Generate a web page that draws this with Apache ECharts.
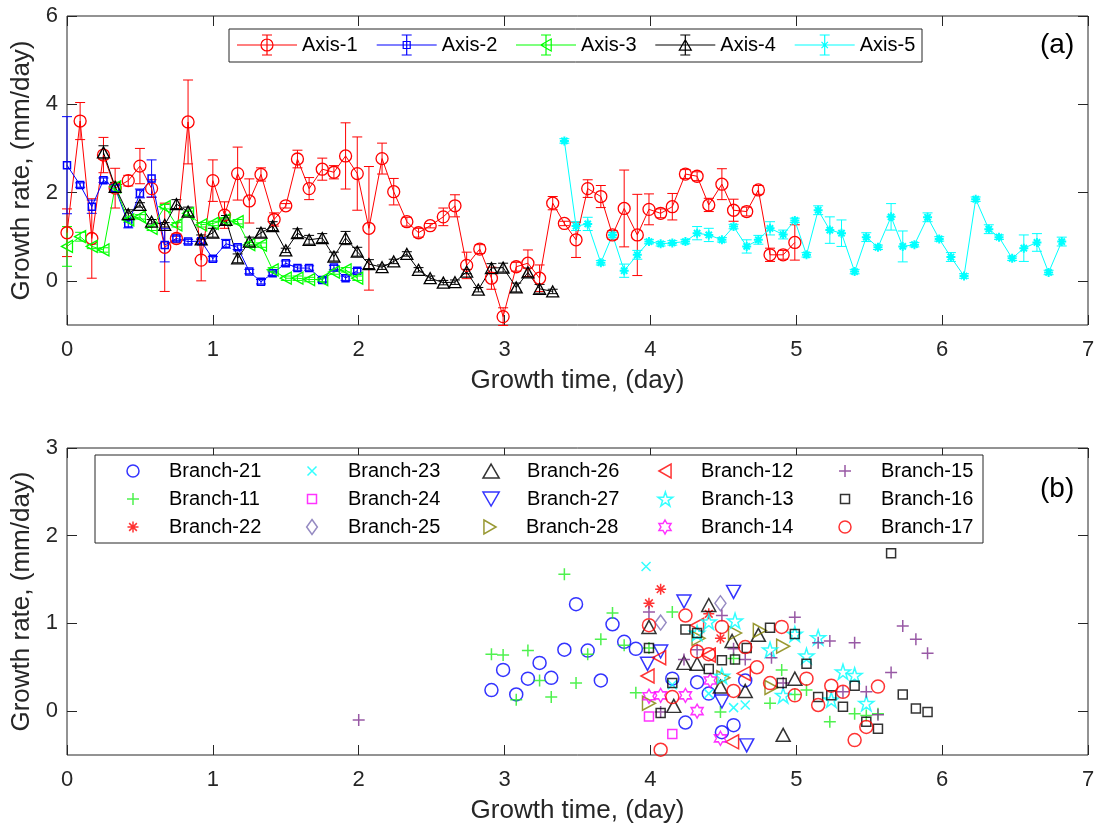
<!DOCTYPE html>
<html><head><meta charset="utf-8">
<script src="https://cdn.jsdelivr.net/npm/echarts@6/dist/echarts.min.js"></script>
<style>html,body{margin:0;padding:0;background:#fff}#c{width:1104px;height:827px}</style>
</head><body><div id="c"></div>
<script>
// ---------------- DATA (panel a) ----------------
const xTicks = [0, 1, 2, 3, 4, 5, 6, 7];
const yTicksA = [0, 2, 4, 6];
const yTicksB = [0, 1, 2, 3];

const ax1X = [0.00,0.09,0.17,0.25,0.33,0.42,0.50,0.58,0.67,0.75,0.83,0.92,1.00,1.08,1.17,1.25,1.33,1.42,1.50,1.58,1.66,1.75,1.83,1.91,1.99,2.07,2.16,2.24,2.33,2.41,2.49,2.58,2.66,2.74,2.83,2.91,2.99,3.08,3.16,3.24,3.33,3.41,3.49,3.57,3.66,3.74,3.82,3.91,3.99,4.07,4.15,4.24,4.32,4.40,4.49,4.57,4.66,4.74,4.82,4.91,4.99];
const ax1Y = [1.09,3.62,0.96,2.85,2.10,2.27,2.60,2.09,0.76,0.96,3.60,0.47,2.27,1.49,2.43,1.81,2.41,1.39,1.70,2.76,2.09,2.53,2.46,2.83,2.43,1.19,2.77,2.02,1.34,1.09,1.25,1.45,1.70,0.35,0.72,0.06,-0.81,0.32,0.40,0.06,1.76,1.30,0.93,2.09,1.91,1.04,1.64,1.04,1.62,1.53,1.68,2.42,2.37,1.72,2.19,1.60,1.57,2.06,0.59,0.59,0.87];
const ax1E = [0.54,0.42,0.90,0.40,0.45,0.12,0.40,0.20,1.00,0.10,0.95,0.47,0.47,0.30,0.60,0.50,0.15,0.15,0.05,0.20,0.25,0.25,0.15,0.75,0.83,1.40,0.35,0.30,0.10,0.10,0.05,0.20,0.25,0.30,0.10,0.25,0.20,0.10,0.30,0.30,0.15,0.05,0.40,0.20,0.25,0.10,0.87,0.92,0.35,0.10,0.30,0.10,0.10,0.15,0.35,0.25,0.10,0.10,0.15,0.10,0.40];

const ax2X = [0.00,0.09,0.17,0.25,0.33,0.42,0.50,0.58,0.67,0.75,0.83,0.92,1.00,1.09,1.17,1.25,1.33,1.41,1.50,1.58,1.66,1.75,1.83,1.91,1.99];
const ax2Y = [2.62,2.17,1.68,2.28,2.10,1.30,1.98,2.32,0.81,0.96,0.89,0.90,0.50,0.84,0.76,0.21,-0.02,0.17,0.40,0.29,0.29,0.02,0.30,0.06,0.23];
const ax2E = [1.10,0.05,0.15,0.05,0.10,0.10,0.10,0.42,0.38,0.05,0.05,0.05,0.05,0.10,0.05,0.05,0.05,0.05,0.05,0.05,0.05,0.05,0.05,0.05,0.05];

const ax3X = [0.00,0.09,0.17,0.25,0.33,0.42,0.50,0.58,0.67,0.75,0.83,0.92,1.00,1.08,1.17,1.25,1.33,1.41,1.50,1.58,1.66,1.75,1.83,1.91,1.99];
const ax3Y = [0.78,1.00,0.78,0.70,2.13,1.38,1.45,1.19,1.68,1.27,1.53,1.27,1.30,1.38,1.34,0.82,0.81,0.25,0.06,0.06,0.03,0.03,0.20,0.25,0.06];
const ax3E = [0.45,0.10,0.05,0.05,0.10,0.05,0.05,0.05,0.05,0.05,0.05,0.05,0.05,0.05,0.05,0.05,0.05,0.05,0.05,0.05,0.05,0.05,0.05,0.05,0.05];

const ax4X = [0.25,0.33,0.42,0.50,0.58,0.67,0.75,0.83,0.92,1.00,1.09,1.17,1.25,1.33,1.41,1.50,1.58,1.66,1.75,1.83,1.91,1.99,2.07,2.16,2.24,2.33,2.41,2.49,2.58,2.66,2.74,2.82,2.91,2.99,3.08,3.16,3.24,3.33];
const ax4Y = [2.91,2.13,1.51,1.72,1.34,1.27,1.74,1.57,0.94,1.09,1.38,0.51,0.89,1.09,1.24,0.69,1.08,0.93,0.97,0.55,0.97,0.66,0.38,0.31,0.44,0.61,0.25,0.06,-0.04,-0.03,0.21,-0.20,0.29,0.30,-0.15,0.19,-0.18,-0.24];
const ax4E = [0.15,0.10,0.10,0.05,0.05,0.05,0.10,0.10,0.10,0.10,0.10,0.10,0.10,0.10,0.10,0.05,0.10,0.10,0.10,0.10,0.15,0.10,0.10,0.05,0.05,0.05,0.05,0.05,0.05,0.05,0.05,0.05,0.10,0.10,0.10,0.10,0.10,0.05];

const ax5X = [3.41,3.49,3.57,3.66,3.74,3.82,3.91,3.99,4.07,4.15,4.24,4.32,4.40,4.49,4.57,4.66,4.74,4.82,4.91,4.99,5.07,5.15,5.23,5.31,5.40,5.48,5.56,5.65,5.73,5.81,5.90,5.98,6.06,6.15,6.23,6.32,6.39,6.48,6.56,6.65,6.73,6.82];
const ax5Y = [3.17,1.24,1.29,0.41,1.04,0.23,0.59,0.89,0.84,0.86,0.89,1.08,1.04,0.93,1.23,0.78,0.93,1.19,1.05,1.37,0.59,1.60,1.15,1.08,0.21,0.99,0.76,1.45,0.78,0.82,1.44,0.95,0.54,0.11,1.85,1.17,0.99,0.51,0.74,0.87,0.19,0.89];
const ax5E = [0.05,0.10,0.15,0.05,0.05,0.15,0.10,0.05,0.05,0.05,0.05,0.15,0.15,0.05,0.05,0.15,0.10,0.15,0.10,0.05,0.05,0.10,0.30,0.30,0.05,0.10,0.05,0.30,0.35,0.05,0.10,0.05,0.10,0.05,0.05,0.10,0.05,0.05,0.30,0.20,0.05,0.10];

// ---------------- DATA (panel b) ----------------
const b21 = [[2.91,0.24],[2.99,0.47],[3.08,0.19],[3.16,0.37],[3.24,0.55],[3.32,0.38],[3.41,0.70],[3.49,1.22],[3.57,0.69],[3.66,0.35],[3.74,0.99],[3.82,0.79],[3.90,0.71],[4.15,0.37],[4.24,-0.13],[4.32,0.33],[4.40,0.20],[4.49,-0.24],[4.57,-0.16],[4.65,0.35]];
const b11 = [[2.91,0.65],[2.99,0.64],[3.08,0.13],[3.16,0.69],[3.24,0.35],[3.32,0.16],[3.41,1.56],[3.49,0.32],[3.57,0.65],[3.66,0.82],[3.74,1.12],[3.82,0.75],[3.90,0.21],[3.99,0.72],[4.15,1.13],[4.48,-0.01],[4.57,0.60],[4.82,0.09],[4.90,0.47],[4.99,0.19],[5.07,0.24],[5.23,-0.12],[5.40,-0.03],[5.48,-0.05],[5.56,-0.03]];
const b22 = [[3.99,1.23],[4.07,1.39],[4.40,1.11],[4.48,0.83]];
const b23 = [[3.97,1.65],[4.15,0.30],[4.40,0.20],[4.57,0.04],[4.65,0.07]];
const b24 = [[3.99,-0.06],[4.15,-0.26]];
const b25 = [[4.07,1.01],[4.48,1.23]];
const b26 = [[3.99,0.96],[4.16,0.06],[4.23,0.55],[4.32,0.54],[4.40,1.21],[4.48,0.28],[4.56,0.80],[4.65,0.23],[4.74,0.87],[4.91,-0.27],[4.99,0.37]];
const b27 = [[3.98,0.54],[4.07,0.68],[4.23,1.25],[4.49,0.11],[4.57,1.36],[4.66,-0.39]];
const b28 = [[3.99,0.09],[4.33,0.83],[4.50,0.38],[4.58,0.89],[4.75,0.92],[4.83,0.27],[4.91,0.74]];
const b12 = [[3.98,0.40],[4.06,0.61],[4.32,0.98],[4.40,0.64],[4.56,-0.35],[4.64,0.43]];
const b13 = [[4.32,0.89],[4.40,1.02],[4.49,0.40],[4.58,1.03],[4.82,0.70],[4.91,0.18],[4.99,0.88],[5.07,0.63],[5.15,0.84],[5.24,0.13],[5.32,0.45],[5.40,0.41],[5.48,0.09]];
const b14 = [[3.99,0.17],[4.07,0.18],[4.24,0.18],[4.32,0.00],[4.41,0.35],[4.48,-0.31]];
const b15 = [[2.00,-0.10],[3.99,1.13],[4.07,-0.01],[4.23,0.59],[4.32,0.70],[4.49,1.09],[4.57,0.71],[4.65,0.59],[4.83,0.61],[4.91,0.32],[4.99,1.07],[5.15,0.78],[5.23,0.80],[5.32,0.22],[5.40,0.78],[5.48,0.22],[5.56,-0.04],[5.65,0.44],[5.73,0.97],[5.82,0.82],[5.90,0.66]];
const b16 = [[3.99,0.72],[4.07,-0.02],[4.15,0.32],[4.24,0.93],[4.32,0.89],[4.40,0.48],[4.49,0.58],[4.58,0.59],[4.66,0.72],[4.82,0.95],[4.90,0.32],[4.99,0.88],[5.07,0.54],[5.15,0.16],[5.24,0.18],[5.32,0.05],[5.40,0.29],[5.48,-0.12],[5.56,-0.20],[5.65,1.80],[5.73,0.19],[5.82,0.03],[5.90,-0.01]];
const b17 = [[3.99,0.98],[4.07,-0.44],[4.15,0.16],[4.24,1.09],[4.32,0.68],[4.40,0.65],[4.49,0.96],[4.57,0.23],[4.65,0.73],[4.73,0.50],[4.82,0.32],[4.90,0.96],[4.99,0.18],[5.07,0.37],[5.15,0.07],[5.24,0.29],[5.32,0.22],[5.40,-0.33],[5.48,-0.18],[5.56,0.28]];

// ---------------- STYLE ----------------
const FONT = '"Liberation Sans", Arial, Helvetica, sans-serif';
const AX = '#262626';
const NONE = 'rgba(0,0,0,0)';
const SYM = {
  circle: 'circle',
  square: 'path://M0,0 L10,0 L10,10 L0,10 Z',
  diamond: 'path://M5,0 L10,7 L5,14 L0,7 Z',
  up: 'path://M5,0 L10,8.66 L0,8.66 Z',
  down: 'path://M0,0 L10,0 L5,8.66 Z',
  left: 'path://M0,5 L8.66,0 L8.66,10 Z',
  right: 'path://M0,0 L8.66,5 L0,10 Z',
  plus: 'path://M5,0 L5,10 M0,5 L10,5',
  cross: 'path://M0,0 L10,10 M10,0 L0,10',
  aster: 'path://M5,0 L5,10 M0,5 L10,5 M1.5,1.5 L8.5,8.5 M8.5,1.5 L1.5,8.5',
  star: 'path://M5,0 L6.12,3.45 L9.76,3.45 L6.82,5.59 L7.94,9.05 L5,6.91 L2.06,9.05 L3.18,5.59 L0.24,3.45 L3.88,3.45 Z',
  hex: 'path://M5,0 L6.44,2.5 L9.33,2.5 L7.89,5 L9.33,7.5 L6.44,7.5 L5,10 L3.56,7.5 L0.67,7.5 L2.11,5 L0.67,2.5 L3.56,2.5 Z'
};
// legend icons for panel (a): line + error bar + marker, in a 60x20 box
const EB = 'M0,10 L60,10 M30,0 L30,20 M25,0 L35,0 M25,20 L35,20 ';
const LEG_ICON = {
  circle: 'path://' + EB + 'M36,10 A6,6 0 1,1 24,10 A6,6 0 1,1 36,10 Z',
  square: 'path://' + EB + 'M26.5,6.5 L33.5,6.5 L33.5,13.5 L26.5,13.5 Z',
  left:   'path://' + EB + 'M24.8,10 L35.2,4 L35.2,16 Z',
  up:     'path://' + EB + 'M30,4.8 L36,15.2 L24,15.2 Z',
  aster:  'path://' + EB + 'M30,5.5 L30,14.5 M25.5,10 L34.5,10 M26.8,6.8 L33.2,13.2 M33.2,6.8 L26.8,13.2'
};

const topDefs = [
  {name:'Axis-1', x:ax1X, y:ax1Y, e:ax1E, color:'#ff0000', symbol:SYM.circle, size:12, icon:LEG_ICON.circle, bw:1.3},
  {name:'Axis-2', x:ax2X, y:ax2Y, e:ax2E, color:'#0000ff', symbol:SYM.square, size:7,  icon:LEG_ICON.square, bw:1.5},
  {name:'Axis-3', x:ax3X, y:ax3Y, e:ax3E, color:'#00ff00', symbol:SYM.left,   size:[11,12], icon:LEG_ICON.left, bw:1.3},
  {name:'Axis-4', x:ax4X, y:ax4Y, e:ax4E, color:'#000000', symbol:SYM.up,     size:[12,11], icon:LEG_ICON.up, bw:1.3},
  {name:'Axis-5', x:ax5X, y:ax5Y, e:ax5E, color:'#00ffff', symbol:SYM.aster,  size:9,  icon:LEG_ICON.aster, bw:2}
];
const topLegendLeft = [237, 376.7, 516, 655.3, 794.7];

const botDefs = [
  {name:'Branch-21', data:b21, color:'#0000ff', symbol:SYM.circle, size:13, lh:12, asp:1},
  {name:'Branch-11', data:b11, color:'#22ee22', symbol:SYM.plus,   size:12, lh:12, asp:1},
  {name:'Branch-22', data:b22, color:'#ff0000', symbol:SYM.aster,  size:11, lh:11, asp:1},
  {name:'Branch-23', data:b23, color:'#00ffff', symbol:SYM.cross,  size:9,  lh:9,  asp:1},
  {name:'Branch-24', data:b24, color:'#ff00ff', symbol:SYM.square, size:9,  lh:9,  asp:1},
  {name:'Branch-25', data:b25, color:'#7b6db3', symbol:SYM.diamond,size:[11,15], lh:15, asp:0.714},
  {name:'Branch-26', data:b26, color:'#000000', symbol:SYM.up,     size:[14,13], lh:14, asp:1},
  {name:'Branch-27', data:b27, color:'#0000ff', symbol:SYM.down,   size:[14,13], lh:14, asp:1},
  {name:'Branch-28', data:b28, color:'#808000', symbol:SYM.right,  size:[13,14], lh:14, asp:0.866},
  {name:'Branch-12', data:b12, color:'#ff0000', symbol:SYM.left,   size:[13,14], lh:14, asp:0.866},
  {name:'Branch-13', data:b13, color:'#00ffff', symbol:SYM.star,   size:15, lh:14, asp:1},
  {name:'Branch-14', data:b14, color:'#ff00ff', symbol:SYM.hex,    size:[12,14], lh:14, asp:0.866},
  {name:'Branch-15', data:b15, color:'#7e2f8e', symbol:SYM.plus,   size:12, lh:12, asp:1},
  {name:'Branch-16', data:b16, color:'#000000', symbol:SYM.square, size:9,  lh:9,  asp:1},
  {name:'Branch-17', data:b17, color:'#ff0000', symbol:SYM.circle, size:13, lh:12, asp:1}
];
// column-major legend: 5 columns x 3 rows (marker centres)
const botColCenter = [133, 312, 490, 665, 845];
const botRowCenter = [469, 497, 525];

// ---------------- BUILD ----------------
function makeErr(color) {
  return function (params, api) {
    const x = api.value(0), lo = api.value(1), hi = api.value(2);
    const p1 = api.coord([x, lo]);
    const p2 = api.coord([x, hi]);
    const hw = 5;
    const st = {stroke: color, lineWidth: 1};
    return {type: 'group', children: [
      {type: 'line', shape: {x1: p1[0], y1: p1[1], x2: p2[0], y2: p2[1]}, style: st},
      {type: 'line', shape: {x1: p1[0] - hw, y1: p1[1], x2: p1[0] + hw, y2: p1[1]}, style: st},
      {type: 'line', shape: {x1: p2[0] - hw, y1: p2[1], x2: p2[0] + hw, y2: p2[1]}, style: st}
    ]};
  };
}

const series = [];
topDefs.forEach(d => {
  series.push({
    type: 'custom', name: d.name + ' err', xAxisIndex: 0, yAxisIndex: 0,
    data: d.x.map((v, i) => [v, d.y[i] - d.e[i], d.y[i] + d.e[i]]),
    encode: {x: 0, y: [1, 2]}, renderItem: makeErr(d.color), silent: true, z: 2
  });
  series.push({
    type: 'line', name: d.name, xAxisIndex: 0, yAxisIndex: 0,
    data: d.x.map((v, i) => [v, d.y[i]]),
    symbol: d.symbol, symbolSize: d.size, showAllSymbol: true,
    lineStyle: {color: d.color, width: 1},
    itemStyle: {color: NONE, borderColor: d.color, borderWidth: d.bw},
    emphasis: {disabled: true}, z: 2
  });
});
botDefs.forEach(d => {
  series.push({
    type: 'scatter', name: d.name, xAxisIndex: 2, yAxisIndex: 2,
    data: d.data, symbol: d.symbol, symbolSize: d.size,
    itemStyle: {color: NONE, borderColor: d.color, borderWidth: 1.5},
    emphasis: {disabled: true}, z: 2
  });
});

const legends = [];
topDefs.forEach((d, i) => {
  legends.push({
    left: topLegendLeft[i] - 0.6, top: 34, padding: 0, itemWidth: 60, itemHeight: 22,
    selectedMode: false, data: [{name: d.name, icon: d.icon}],
    textStyle: {fontSize: 20, lineHeight: 22, color: '#000', fontFamily: FONT},
    itemStyle: {color: NONE, borderColor: d.color, borderWidth: 1.2}
  });
});
botDefs.forEach((d, i) => {
  const col = Math.floor(i / 3), row = i % 3;
  const iconW = d.lh * d.asp + 1.5;
  legends.push({
    left: botColCenter[col] - iconW / 2, top: botRowCenter[row] - 8, padding: 0, itemWidth: 62, itemHeight: d.lh,
    selectedMode: false, data: [{name: d.name, icon: d.symbol}],
    textStyle: {fontSize: 20, lineHeight: 16, color: '#000', fontFamily: FONT},
    itemStyle: {color: NONE, borderColor: d.color, borderWidth: 1.5}
  });
});

function xAx(grid, mirror) {
  return {
    type: 'value', gridIndex: grid, min: 0, max: 7, interval: 1,
    position: mirror ? 'top' : 'bottom',
    axisLine: {show: false, onZero: false},
    axisTick: {show: true, inside: true, length: 10, lineStyle: {color: AX, width: 1}},
    axisLabel: {show: !mirror, fontSize: 22, color: AX, margin: 14, fontFamily: FONT},
    splitLine: {show: false},
    name: mirror ? '' : 'Growth time, (day)', nameLocation: 'middle', nameGap: 43,
    nameTextStyle: {fontSize: 26, color: AX, fontFamily: FONT}
  };
}
function yAx(grid, mirror, min, max, ticks) {
  return {
    type: 'value', gridIndex: grid, min: min, max: max,
    position: mirror ? 'right' : 'left',
    axisLine: {show: false, onZero: false},
    axisTick: {show: true, inside: true, length: 10, customValues: ticks, lineStyle: {color: AX, width: 1}},
    axisLabel: {show: !mirror, fontSize: 22, color: AX, margin: 9, fontFamily: FONT, customValues: ticks},
    splitLine: {show: false},
    name: mirror ? '' : 'Growth rate, (mm/day)', nameLocation: 'middle', nameGap: 21,
    nameTextStyle: {fontSize: 26, color: AX, fontFamily: FONT}
  };
}

const option = {
  animation: false,
  backgroundColor: '#fff',
  textStyle: {fontFamily: FONT},
  grid: [
    {left: 67, right: 16, top: 16, height: 309, show: true, borderColor: AX, borderWidth: 1, backgroundColor: 'rgba(0,0,0,0)'},
    {left: 67, right: 16, top: 448, height: 307, show: true, borderColor: AX, borderWidth: 1, backgroundColor: 'rgba(0,0,0,0)'}
  ],
  xAxis: [xAx(0, false), xAx(0, true), xAx(1, false), xAx(1, true)],
  yAxis: [
    yAx(0, false, -1, 6, yTicksA), yAx(0, true, -1, 6, yTicksA),
    yAx(1, false, -0.5, 3, yTicksB), yAx(1, true, -0.5, 3, yTicksB)
  ],
  legend: legends,
  graphic: [
    {type: 'rect', z: 3, shape: {x: 229, y: 29, width: 693, height: 33}, style: {fill: '#fff', stroke: AX, lineWidth: 1}},
    {type: 'rect', z: 3, shape: {x: 95, y: 455, width: 888, height: 88}, style: {fill: '#fff', stroke: AX, lineWidth: 1}},
    {type: 'text', z: 5, left: 1040, top: 31, style: {text: '(a)', fontSize: 28, fill: '#000', font: '28px ' + FONT}},
    {type: 'text', z: 5, left: 1040, top: 475, style: {text: '(b)', fontSize: 28, fill: '#000', font: '28px ' + FONT}}
  ],
  series: series
};

const chart = echarts.init(document.getElementById('c'), null, {renderer: 'canvas'});
chart.setOption(option);
</script></body></html>
